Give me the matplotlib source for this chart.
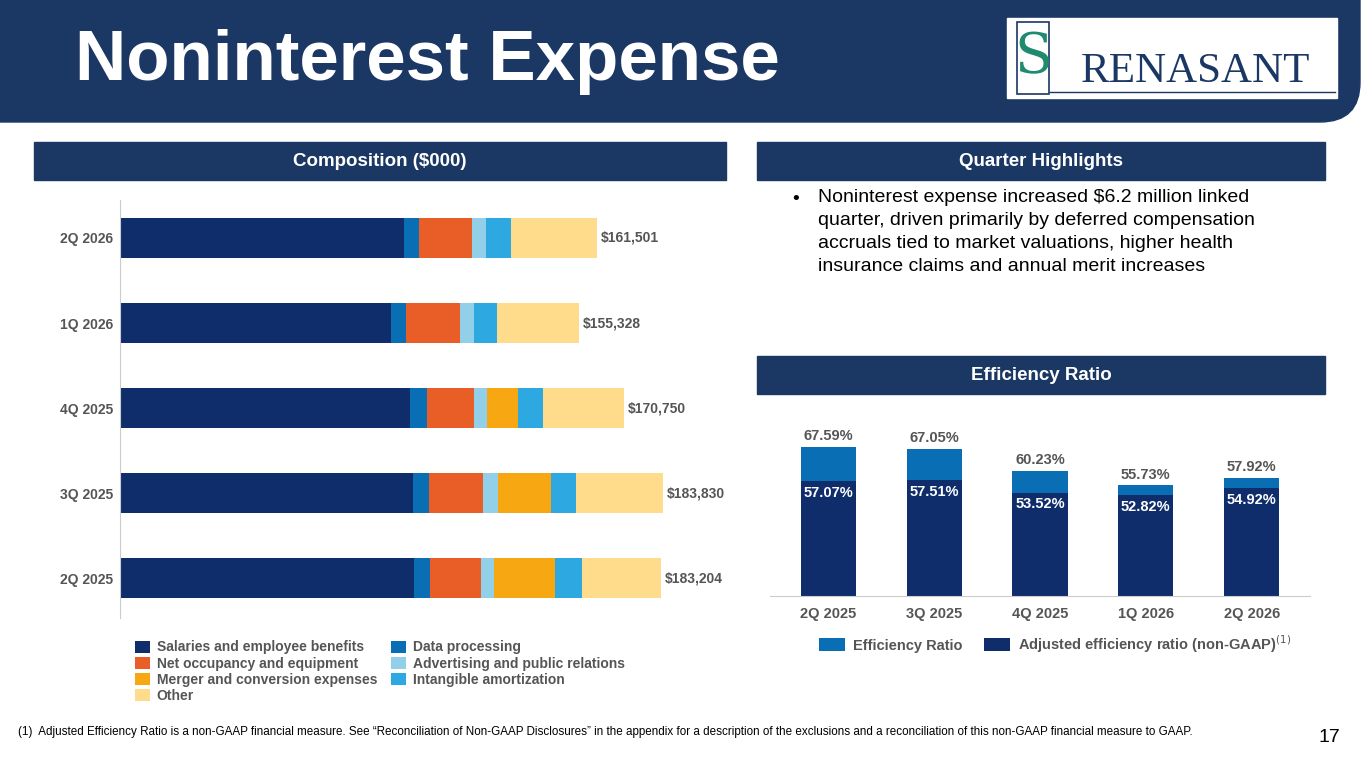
import matplotlib
matplotlib.use("Agg")
import matplotlib.pyplot as plt
from matplotlib.patches import Rectangle, FancyBboxPatch
import numpy as np

plt.rcParams["font.family"] = ["Liberation Sans", "DejaVu Sans"]

W, H = 1365, 768
NAVY = "#1b3764"
DARK = "#0f2d6b"

quarters = ["2Q 2025", "3Q 2025", "4Q 2025", "1Q 2026", "2Q 2026"]
totals = [183204, 183830, 170750, 155328, 161501]
series_names = ["Salaries and employee benefits", "Data processing", "Net occupancy and equipment",
                "Advertising and public relations", "Merger and conversion expenses",
                "Intangible amortization", "Other"]
salaries = [99550, 99210, 98190, 91760, 96160]
data_proc = [5420, 5420, 5760, 5080, 5080]
occupancy = [17270, 18280, 15910, 18280, 17950]
advertising = [4400, 5080, 4400, 4740, 4740]
merger = [20650, 17950, 10500, 0, 0]
intangible = [9140, 8470, 8470, 7790, 8470]
other = [26774, 29420, 27520, 27658, 29101]
seg_colors = ["#0f2d6b", "#0a6eb4", "#e95e27", "#92d0ea", "#f7a711", "#2ea8e0", "#fedc8c"]

eff_ratio = [67.59, 67.05, 60.23, 55.73, 57.92]
adj_ratio = [57.07, 57.51, 53.52, 52.82, 54.92]

fig = plt.figure(figsize=(W/100, H/100), dpi=100)
fig.patch.set_facecolor("white")

def px(x, y, w, h):
    return [x/W, 1-(y+h)/H, w/W, h/H]

bg = fig.add_axes([0, 0, 1, 1]); bg.set_xlim(0, W); bg.set_ylim(H, 0); bg.axis("off")
bg.add_patch(FancyBboxPatch((-40, -40), W-5+40, 162, boxstyle="round,pad=0,rounding_size=40", color=NAVY))
bg.text(75, 62, "Noninterest Expense", color="white", fontsize=51, fontweight="bold", va="center")
bg.add_patch(Rectangle((1007, 18), 330, 80, color="white"))
bg.add_patch(Rectangle((1017, 22), 32, 72, fill=False, ec=NAVY, lw=1.2))
bg.text(1033, 58, "S", color="#1e8a6e", fontsize=40, va="center", ha="center", family="DejaVu Serif")
bg.text(1195, 72, "RENASANT", color=NAVY, fontsize=31, va="center", ha="center", family="Liberation Serif")
bg.plot([1050, 1335], [92, 92], color=NAVY, lw=1)

bg.add_patch(Rectangle((34, 142), 692, 38, color=NAVY))
bg.text(380, 161, "Composition ($000)", color="white", fontsize=13.5, fontweight="bold", ha="center", va="center")
bg.add_patch(Rectangle((757, 142), 568, 38, color=NAVY))
bg.text(1041, 161, "Quarter Highlights", color="white", fontsize=13.5, fontweight="bold", ha="center", va="center")
bg.add_patch(Rectangle((757, 356), 568, 38, color=NAVY))
bg.text(1041, 375, "Efficiency Ratio", color="white", fontsize=13.5, fontweight="bold", ha="center", va="center")
bg.text(792, 199, "•", fontsize=14, va="center")
bg.text(818, 189, "Noninterest expense increased $6.2 million linked\nquarter, driven primarily by deferred compensation\naccruals tied to market valuations, higher health\ninsurance claims and annual merit increases",
        fontsize=14, va="top", linespacing=1.45)
bg.text(18, 732, "(1)  Adjusted Efficiency Ratio is a non-GAAP financial measure. See \u201cReconciliation of Non-GAAP Disclosures\u201d in the appendix for a description of the exclusions and a reconciliation of this non-GAAP financial measure to GAAP.",
        fontsize=8.4, va="center")
bg.text(1340, 738, "17", fontsize=14, ha="right", va="center")

# Composition chart
ax = fig.add_axes(px(120, 200, 541*(200000/183204), 418))
data = [salaries, data_proc, occupancy, advertising, merger, intangible, other]
y = np.arange(len(quarters))
left = np.zeros(len(quarters))
for name, vals, c in zip(series_names, data, seg_colors):
    ax.barh(y, vals, left=left, color=c, height=0.47, label=name)
    left += np.array(vals)
for i, t in enumerate(totals):
    ax.text(t + 1300, i, f"${t:,}", va="center", fontsize=10, fontweight="bold", color="#555555")
ax.set_xlim(0, 200000); ax.set_ylim(-0.47, 4.447)
ax.set_yticks(y); ax.set_yticklabels(quarters, fontsize=10, fontweight="bold", color="#555555")
ax.set_xticks([])
for s in ["top", "right", "bottom"]:
    ax.spines[s].set_visible(False)
ax.spines["left"].set_color("#cccccc")
ax.tick_params(axis="y", length=0, pad=5)
handles, labels = ax.get_legend_handles_labels()
order = [0, 2, 4, 6, 1, 3, 5]
fig.legend([handles[i] for i in order], [labels[i] for i in order], ncol=2,
           loc="upper left", bbox_to_anchor=(122/W, 1-628/H), frameon=False,
           prop={"size": 10, "weight": "bold"}, labelcolor="#555555",
           handlelength=1.1, handleheight=1.0, handletextpad=0.5, columnspacing=1.0, labelspacing=0.15)

# Efficiency chart
ax2 = fig.add_axes(px(770, 410, 540, 186))
x = np.arange(len(quarters))
ax2.bar(x, eff_ratio, width=0.52, color="#0a6eb4", label="Efficiency Ratio")
ax2.bar(x, adj_ratio, width=0.52, color=DARK, label="Adjusted efficiency ratio (non-GAAP)$^{(1)}$")
ymin = 21.5
ax2.set_ylim(ymin, ymin + 186/3.23)
for i in range(len(x)):
    ax2.text(x[i], eff_ratio[i] + 1.2, f"{eff_ratio[i]:.2f}%", ha="center", va="bottom", fontsize=10.5, fontweight="bold", color="#555555")
    ax2.text(x[i], adj_ratio[i] - 1.5, f"{adj_ratio[i]:.2f}%", ha="center", va="top", fontsize=10.5, fontweight="bold", color="white")
ax2.set_xticks(x); ax2.set_xticklabels(quarters, fontsize=10.5, fontweight="bold", color="#555555")
ax2.set_yticks([]); ax2.set_xlim(-0.55, 4.55)
for s in ["top", "right", "left"]:
    ax2.spines[s].set_visible(False)
ax2.spines["bottom"].set_color("#cccccc")
ax2.tick_params(axis="x", length=0, pad=8)
fig.legend(*ax2.get_legend_handles_labels(), ncol=2, loc="center", bbox_to_anchor=(1055/W, 1-644/H),
           frameon=False, prop={"size": 10.5, "weight": "bold"}, labelcolor="#555555",
           handlelength=1.8, handleheight=1.0, handletextpad=0.5, columnspacing=1.5)

fig.savefig("out.png", dpi=100)
